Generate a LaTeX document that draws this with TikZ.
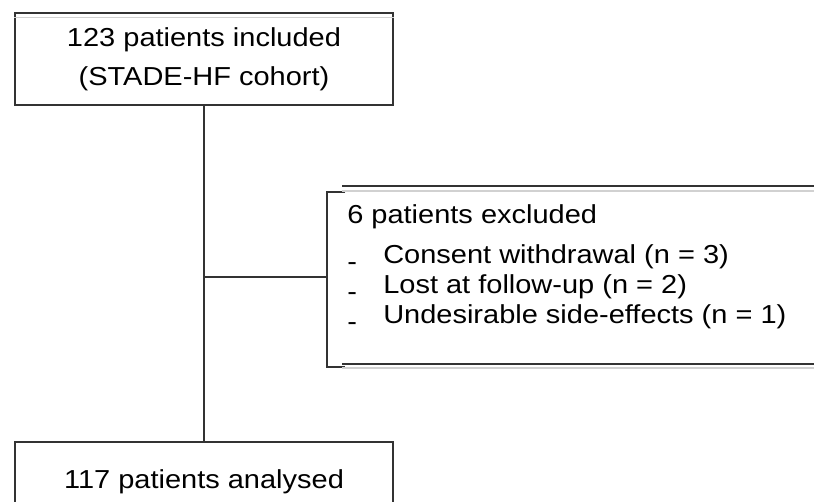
\documentclass[tikz,border=0pt]{standalone}
\usepackage{fontspec}
\setmainfont{Liberation Sans}[FakeStretch=1.115]
\usepackage{tikz}
\usetikzlibrary{positioning}
\newlength\pxu
\setlength\pxu{0.75pt}
\newcommand{\exdash}{\makebox[36\pxu][l]{\raisebox{-0.27em}{-}}}

\begin{document}
\begin{tikzpicture}[x=\pxu, y=-\pxu,
        box/.style={draw=black!80, line width=1.5\pxu, minimum width=378\pxu, align=center, inner sep=0pt, font=\fontsize{19.5pt}{29.25pt}\selectfont},
        list/.style={align=left, inner sep=0pt, font=\fontsize{19.5pt}{22.5pt}\selectfont},
        rule/.style={draw=black!80, line width=1.5\pxu},
        shade/.style={draw=black!18, line width=1.5\pxu}]
        \useasboundingbox (0,0) rectangle (814,501);
        \clip (0,0) rectangle (814,501);

        \node [box, minimum height=92\pxu] (Inc) at (204,59) {123 patients included\\(STADE-HF cohort)};
        \node [box, minimum height=81\pxu, anchor=north] (Ana) at (204,441) {117 patients analysed};
        \node [list, anchor=north west] (Exc) at (347,204.5) {6 patients excluded\\[7.5pt]
            \exdash Consent withdrawal (n = 3)\\
            \exdash Lost at follow-up (n = 2)\\
            \exdash Undesirable side-effects (n = 1)};

        % bracket box round the exclusions
        \coordinate (Brk) at (327,277);
        \draw [rule] (345,192) -- (327,192) -- (Brk) -- (327,367) -- (345,367);
        \draw [rule] (342,186) -- (830,186);
        \draw [shade] (342,191) -- (830,191);
        \draw [rule] (342,364) -- (830,364);
        \draw [shade] (342,368) -- (830,368);
        \draw [shade] ([yshift=-5\pxu]Inc.north west) -- ([yshift=-5\pxu]Inc.north east);

        \draw [rule] (Inc) -- (Ana);
        \draw [rule] (Inc.south |- Brk) -- (Brk);
    \end{tikzpicture}
\end{document}
